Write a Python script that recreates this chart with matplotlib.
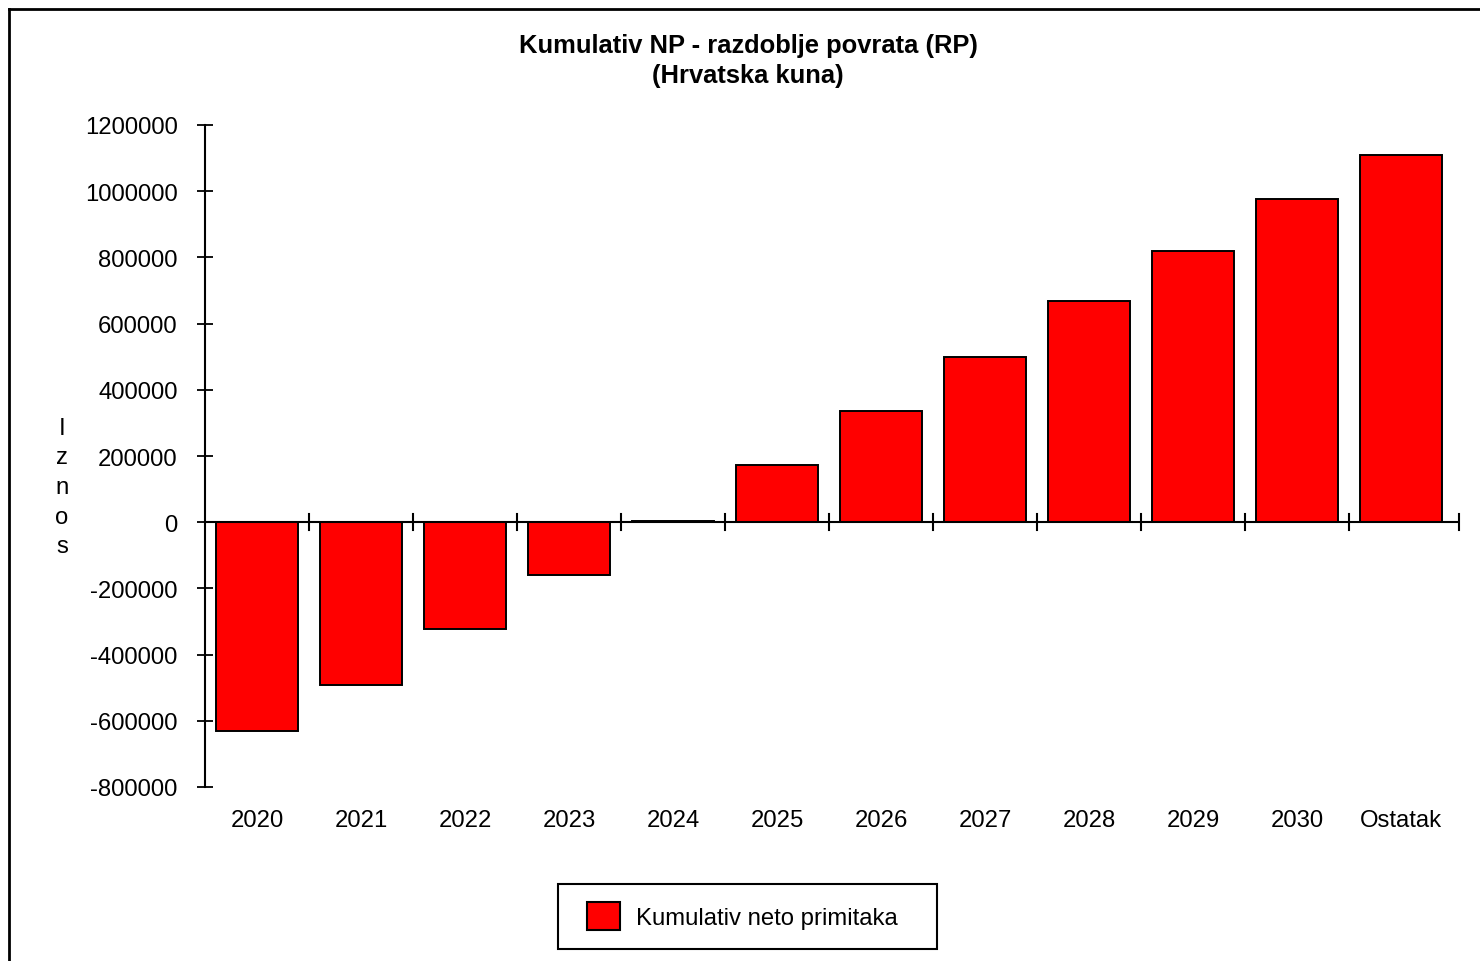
import numpy as np
import matplotlib.pyplot as plt
from matplotlib.patches import Rectangle, Patch
from matplotlib.lines import Line2D

plt.rcParams['font.family'] = ['Liberation Sans', 'DejaVu Sans']

# Data
categories = ['2020', '2021', '2022', '2023', '2024', '2025', '2026',
              '2027', '2028', '2029', '2030', 'Ostatak']
cumulative = [-632000, -493000, -323000, -160000, 4000, 172000, 335000,
              498000, 668000, 819000, 976000, 1110000]
y_ticks = [-800000, -600000, -400000, -200000, 0, 200000, 400000,
           600000, 800000, 1000000, 1200000]

W, H = 1480, 962
DPI = 100
FS = 17.2


def fx(px):
    return px / W


def fy(py):
    return 1 - py / H


fig = plt.figure(figsize=(W / DPI, H / DPI), dpi=DPI)
fig.patch.set_facecolor('white')

# axes box: x 205..1459 px, y 126..788 px
ax = fig.add_axes([fx(205), fy(788), fx(1459) - fx(205), fy(126) - fy(788)])

x = np.arange(len(categories))
ax.bar(x, cumulative, width=0.79, color='#ff0000', edgecolor='black',
       linewidth=1.4, zorder=3)

n = len(categories)
x_right = n - 0.5 + 6 / 104
ax.set_xlim(-0.5, x_right)
ax.set_ylim(-800000, 1200000)

# y axis
ax.set_yticks(y_ticks)
ax.set_yticklabels([str(v) for v in y_ticks], fontsize=FS)
ax.tick_params(axis='y', direction='inout', length=11.5, width=1.3, pad=14)

# x labels below the plot area, no tick marks there
ax.set_xticks(x)
ax.set_xticklabels(categories, fontsize=FS)
ax.tick_params(axis='x', length=0, pad=16)

for s in ['top', 'right', 'bottom']:
    ax.spines[s].set_visible(False)
ax.spines['left'].set_linewidth(1.5)

# zero line with category-boundary ticks
ax.axhline(0, color='black', linewidth=1.5, zorder=4)
bounds = list(np.arange(-0.5, n - 0.5, 1.0))[1:] + [x_right]
for b in bounds:
    ax.plot([b, b], [-25000, 25000], color='black', linewidth=1.5,
            zorder=4, clip_on=False)

# stacked y label
fig.text(fx(62), fy(488), 'I\nz\nn\no\ns', ha='center', va='center',
         fontsize=FS, linespacing=1.45)

# title
fig.text(fx(748), fy(46), 'Kumulativ NP - razdoblje povrata (RP)',
         ha='center', va='center', fontsize=18.4, fontweight='bold')
fig.text(fx(748), fy(76), '(Hrvatska kuna)',
         ha='center', va='center', fontsize=18.4, fontweight='bold')

# legend frame drawn by hand, legend content inside
fig.patches.append(Rectangle((fx(558), fy(950)), fx(937) - fx(558),
                             fy(885) - fy(950), transform=fig.transFigure,
                             facecolor='white', edgecolor='black',
                             linewidth=1.5, zorder=1))
handle = Patch(facecolor='#ff0000', edgecolor='black', linewidth=1.5)
leg = fig.legend([handle], ['Kumulativ neto primitaka'], loc='center left',
                 bbox_to_anchor=(fx(570), fy(917)), frameon=False,
                 fontsize=FS, handlelength=1.4, handleheight=1.4,
                 handletextpad=0.65, borderpad=0.2)

# outer border (top and left visible)
fig.add_artist(Line2D([fx(9), 1], [fy(9.5), fy(9.5)], color='black',
                      linewidth=2, transform=fig.transFigure))
fig.add_artist(Line2D([fx(9), fx(9)], [fy(9.5), 0], color='black',
                      linewidth=2, transform=fig.transFigure))

fig.savefig('out.png', dpi=DPI, facecolor='white')
